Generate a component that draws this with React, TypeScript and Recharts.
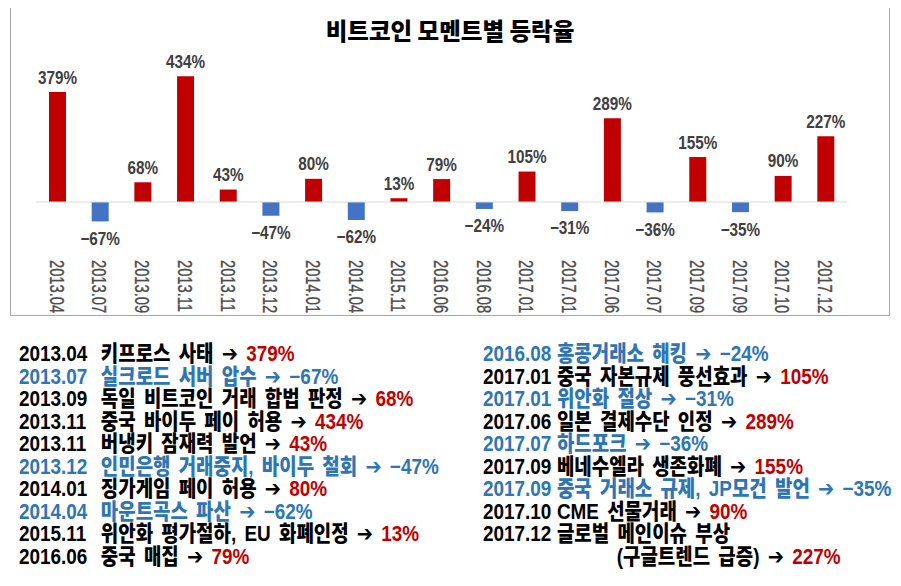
import React from 'react'
import {
  BarChart,
  Bar,
  Cell,
  XAxis,
  YAxis,
  ReferenceLine,
  LabelList
} from 'recharts'

const dates = [
  '2013.04', '2013.07', '2013.09', '2013.11', '2013.11', '2013.12', '2014.01',
  '2014.04', '2015.11', '2016.06', '2016.08', '2017.01', '2017.01', '2017.06',
  '2017.07', '2017.09', '2017.09', '2017.10', '2017.12'
]

const changes = [379, -67, 68, 434, 43, -47, 80, -62, 13, 79, -24, 105, -31, 289, -36, 155, -35, 90, 227]

const events = [
  '키프로스 사태',
  '실크로드 서버 압수',
  '독일 비트코인 거래 합법 판정',
  '중국 바이두 페이 허용',
  '버냉키 잠재력 발언',
  '인민은행 거래중지, 바이두 철회',
  '징가게임 페이 허용',
  '마운트곡스 파산',
  '위안화 평가절하, EU 화폐인정',
  '중국 매집',
  '홍콩거래소 해킹',
  '중국 자본규제 풍선효과',
  '위안화 절상',
  '일본 결제수단 인정',
  '하드포크',
  '베네수엘라 생존화폐',
  '중국 거래소 규제, JP모건 발언',
  'CME 선물거래',
  '글로벌 메인이슈 부상\n(구글트렌드 급증)'
]

const RED = '#C00000'
const BLUE = '#4472C4'
const BLUE_TEXT = '#2E75B6'

const data = dates.map((date, i) => ({ date, value: changes[i] }))

// minus sign instead of hyphen, like the original labels
const pct = (v: number) => `${v < 0 ? '\u2212' : ''}${Math.abs(v)}%`

const DateTick = (props: any) => {
  const { x, y, payload } = props
  return (
    <text
      transform={`translate(${x},${y}) rotate(90) scale(0.7,1)`}
      dy="0.36em"
      fontSize={21}
      fill="#4d4d4d"
      stroke="#4d4d4d"
      strokeWidth={0.35}
      fontFamily="'Liberation Sans', Arial, sans-serif"
    >
      {payload.value}
    </text>
  )
}

const ValueLabel = (props: any) => {
  const { x, y, width, height, value } = props
  const top = Math.min(y, y + height)
  const bottom = Math.max(y, y + height)
  const ty = value >= 0 ? top - 8.5 : bottom + 23.5
  return (
    <text
      transform={`translate(${x + width / 2},${ty}) scale(0.85,1)`}
      textAnchor="middle"
      fill="#404040"
      fontSize={18}
      fontWeight="bold"
      fontFamily="'Liberation Sans', Arial, sans-serif"
    >
      {pct(value)}
    </text>
  )
}

const seg: React.CSSProperties = { display: 'inline-block', height: 22.5, verticalAlign: 'top' }

const EventLine = ({ i, dateWidth, contIndent }: { i: number; dateWidth: number; contIndent: number }) => {
  const v = changes[i]
  const neg = v < 0
  const parts = events[i].split('\n')
  const color = neg ? BLUE_TEXT : '#000'
  const tail = (
    <>
      {' '}
      <span style={{ ...seg, fontFamily: "'DejaVu Sans', sans-serif", fontSize: 22 }}>➔</span>
      {' '}
      <span style={{ ...seg, color: neg ? BLUE_TEXT : RED }}>{pct(v)}</span>
    </>
  )
  return (
    <>
      <div style={{ color, height: 22.5 }}>
        <span style={{ ...seg, width: dateWidth }}>{dates[i]}</span>
        <span style={seg}>{parts[0]}</span>
        {parts.length === 1 && tail}
      </div>
      {parts.length > 1 && (
        <div style={{ color, height: 22.5, paddingLeft: contIndent }}>
          <span style={seg}>{parts[1]}</span>
          {tail}
        </div>
      )}
    </>
  )
}

const columnStyle: React.CSSProperties = {
  position: 'absolute',
  top: 343,
  transform: 'scaleX(0.88)',
  transformOrigin: 'left top',
  whiteSpace: 'nowrap',
  fontFamily: "'Liberation Sans', 'Noto Sans CJK KR', sans-serif",
  fontWeight: 900,
  fontSize: 21.5,
  lineHeight: '22.5px',
  wordSpacing: 3.4
}

export default function App() {
  return (
    <div style={{ position: 'relative', width: 901, height: 586, margin: -8, background: '#fff' }}>
      <div
        style={{
          position: 'absolute',
          left: 10,
          top: 7,
          width: 880,
          height: 309,
          border: '1px solid #a6a6a6',
          boxSizing: 'border-box',
          overflow: 'hidden',
          background: '#fff'
        }}
      >
        <div
          style={{
            position: 'absolute',
            left: 0,
            right: 0,
            top: 7,
            textAlign: 'center',
            fontFamily: "'Noto Sans CJK KR', sans-serif",
            fontWeight: 900,
            fontSize: 23.5,
            lineHeight: '30px',
            color: '#000'
          }}
        >
          비트코인 모멘트별 등락율
        </div>
        <BarChart width={878} height={307} data={data} margin={{ top: 49, right: 42, bottom: 0, left: 25 }}>
          <XAxis
            dataKey="date"
            interval={0}
            axisLine={false}
            tickLine={false}
            tickSize={0}
            tickMargin={0}
            height={55}
            tick={<DateTick />}
          />
          <YAxis hide domain={[-200, 500]} />
          <ReferenceLine y={0} stroke="#d9d9d9" strokeWidth={1} />
          <Bar dataKey="value" barSize={17} isAnimationActive={false}>
            {data.map((d, i) => (
              <Cell key={`cell-${i}`} fill={d.value >= 0 ? RED : BLUE} />
            ))}
            <LabelList dataKey="value" content={<ValueLabel />} />
          </Bar>
        </BarChart>
      </div>

      <div style={{ ...columnStyle, left: 19 }}>
        {dates.slice(0, 10).map((_, i) => (
          <EventLine key={i} i={i} dateWidth={93} contIndent={0} />
        ))}
      </div>
      <div style={{ ...columnStyle, left: 483 }}>
        {dates.slice(10).map((_, j) => (
          <EventLine key={j} i={j + 10} dateWidth={84} contIndent={152} />
        ))}
      </div>
    </div>
  )
}
